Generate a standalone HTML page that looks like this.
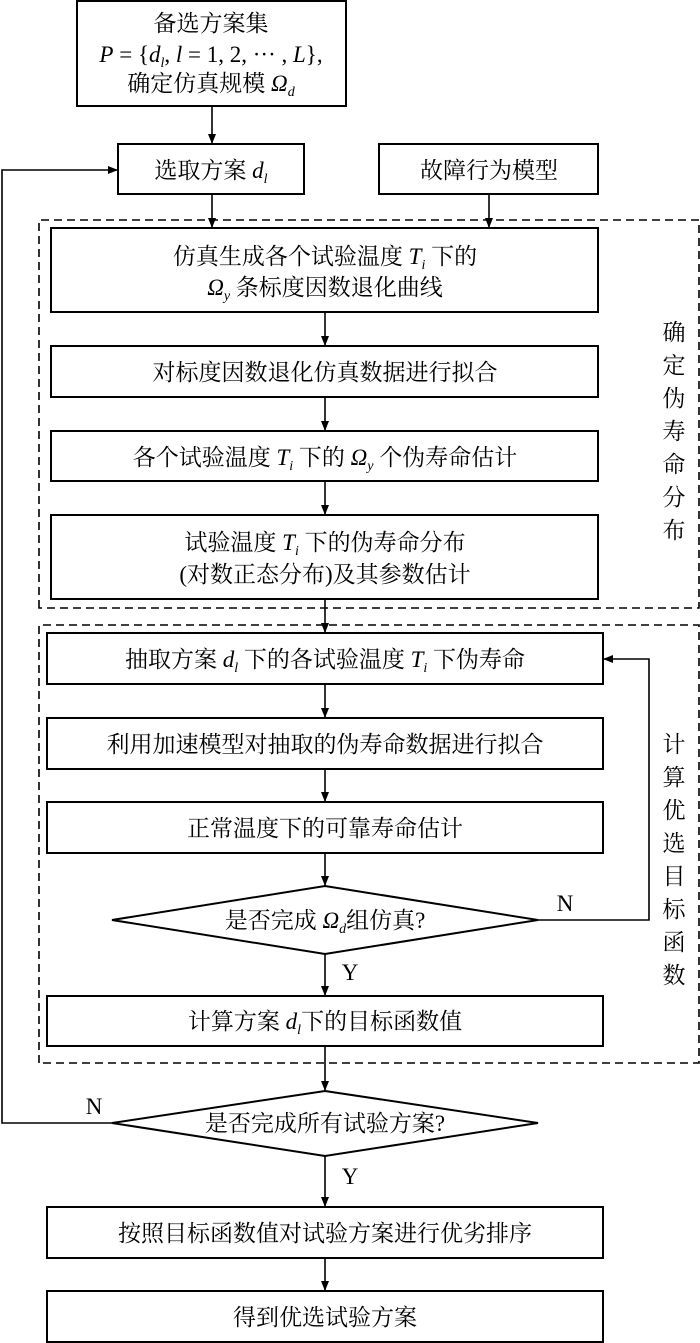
<!DOCTYPE html>
<html><head><meta charset="utf-8"><style>
html,body{margin:0;padding:0;background:#fff;}
svg{display:block;}
text{font-family:"Liberation Serif","Noto Serif CJK SC",serif;font-size:23px;fill:#000;}
.m{font-style:italic;}
.s{font-size:14px;font-style:italic;}
</style></head><body>
<svg width="700" height="1343" viewBox="0 0 700 1343" xmlns="http://www.w3.org/2000/svg">
<defs><marker id="a" markerWidth="10" markerHeight="8" refX="10" refY="4" orient="auto" markerUnits="userSpaceOnUse"><path d="M0,0 L10,4 L0,8 Z" fill="#000"/></marker></defs>
<g fill="none" stroke="#000" stroke-width="2">
<rect x="77" y="1" width="269" height="105"/>
<rect x="118" y="144" width="186" height="50"/>
<rect x="379" y="144" width="219" height="50"/>
<rect x="51" y="228" width="547" height="84"/>
<rect x="51" y="346" width="547" height="51"/>
<rect x="51" y="431" width="547" height="50"/>
<rect x="51" y="515" width="547" height="84"/>
<rect x="47" y="633" width="556" height="51"/>
<rect x="47" y="718" width="556" height="51"/>
<rect x="47" y="802" width="556" height="51"/>
<path d="M325,886 L538,920 L325,954 L112,920 Z"/>
<rect x="47" y="996" width="556" height="50"/>
<path d="M325,1091 L538,1123 L325,1156 L112,1123 Z"/>
<rect x="47" y="1207" width="556" height="51"/>
<rect x="47" y="1291" width="556" height="51"/>
</g>
<g fill="none" stroke="#000" stroke-width="1.6" stroke-dasharray="8,5">
<path d="M39,608 L39,220 L699,220 L699,608 Z"/>
<path d="M39,1063 L39,625 L699,625 L699,1063 Z"/>
</g>
<g fill="none" stroke="#000" stroke-width="1.6" marker-end="url(#a)">
<line x1="212" y1="106" x2="212" y2="144"/>
<line x1="212" y1="194" x2="212" y2="228"/>
<line x1="489" y1="194" x2="489" y2="228"/>
<line x1="325" y1="312" x2="325" y2="346"/>
<line x1="325" y1="397" x2="325" y2="431"/>
<line x1="325" y1="481" x2="325" y2="515"/>
<line x1="325" y1="599" x2="325" y2="633"/>
<line x1="325" y1="684" x2="325" y2="718"/>
<line x1="325" y1="769" x2="325" y2="802"/>
<line x1="325" y1="853" x2="325" y2="886"/>
<line x1="325" y1="954" x2="325" y2="996"/>
<line x1="325" y1="1046" x2="325" y2="1091"/>
<line x1="325" y1="1156" x2="325" y2="1207"/>
<line x1="325" y1="1258" x2="325" y2="1291"/>
<polyline points="538,920 649,920 649,659 603,659"/>
<polyline points="112,1123 2,1123 2,170 118,170"/>
</g>
<g text-anchor="middle">
<text x="211" y="31">备选方案集</text>
<text x="211" y="62"><tspan class="m">P</tspan> = {<tspan class="m">d</tspan><tspan class="s" dy="5">l</tspan><tspan dy="-5">, </tspan><tspan class="m">l</tspan> = 1, 2, ··· , <tspan class="m">L</tspan>},</text>
<text x="211" y="91">确定仿真规模 <tspan class="m">Ω</tspan><tspan class="s" dy="5">d</tspan></text>
<text x="211" y="178">选取方案 <tspan class="m">d</tspan><tspan class="s" dy="5">l</tspan></text>
<text x="489" y="178">故障行为模型</text>
<text x="325" y="264">仿真生成各个试验温度 <tspan class="m">T</tspan><tspan class="s" dy="5">i</tspan><tspan dy="-5"> 下的</tspan></text>
<text x="325" y="295"><tspan class="m">Ω</tspan><tspan class="s" dy="5">y</tspan><tspan dy="-5"> 条标度因数退化曲线</tspan></text>
<text x="325" y="380">对标度因数退化仿真数据进行拟合</text>
<text x="325" y="465">各个试验温度 <tspan class="m">T</tspan><tspan class="s" dy="5">i</tspan><tspan dy="-5"> 下的 </tspan><tspan class="m">Ω</tspan><tspan class="s" dy="5">y</tspan><tspan dy="-5"> 个伪寿命估计</tspan></text>
<text x="325" y="550">试验温度 <tspan class="m">T</tspan><tspan class="s" dy="5">i</tspan><tspan dy="-5"> 下的伪寿命分布</tspan></text>
<text x="325" y="582">(对数正态分布)及其参数估计</text>
<text x="325" y="667">抽取方案 <tspan class="m">d</tspan><tspan class="s" dy="5">l</tspan><tspan dy="-5"> 下的各试验温度 </tspan><tspan class="m">T</tspan><tspan class="s" dy="5">i</tspan><tspan dy="-5"> 下伪寿命</tspan></text>
<text x="325" y="752">利用加速模型对抽取的伪寿命数据进行拟合</text>
<text x="325" y="836">正常温度下的可靠寿命估计</text>
<text x="325" y="928">是否完成 <tspan class="m">Ω</tspan><tspan class="s" dy="5">d</tspan><tspan dy="-5">组仿真?</tspan></text>
<text x="325" y="1029">计算方案 <tspan class="m">d</tspan><tspan class="s" dy="5">l</tspan><tspan dy="-5">下的目标函数值</tspan></text>
<text x="325" y="1131">是否完成所有试验方案?</text>
<text x="325" y="1241">按照目标函数值对试验方案进行优劣排序</text>
<text x="325" y="1325">得到优选试验方案</text>
<text x="565" y="911">N</text>
<text x="350" y="980">Y</text>
<text x="94" y="1114">N</text>
<text x="350" y="1184">Y</text>
</g>
<g text-anchor="middle">
<text x="674" y="340">确</text><text x="674" y="373">定</text><text x="674" y="406">伪</text><text x="674" y="439">寿</text><text x="674" y="472">命</text><text x="674" y="505">分</text><text x="674" y="538">布</text>
<text x="674" y="752">计</text><text x="674" y="785">算</text><text x="674" y="818">优</text><text x="674" y="851">选</text><text x="674" y="884">目</text><text x="674" y="917">标</text><text x="674" y="950">函</text><text x="674" y="983">数</text>
</g>
</svg>
</body></html>
